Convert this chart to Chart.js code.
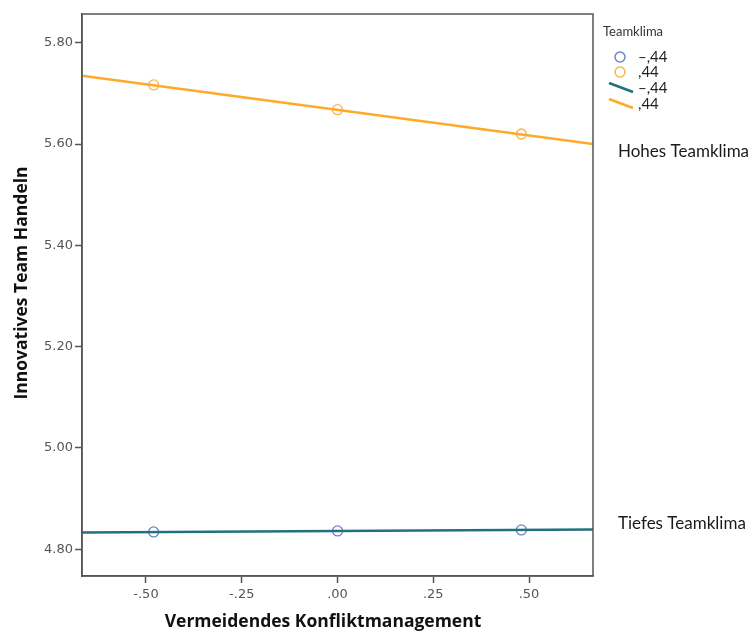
<!DOCTYPE html>
<html>
<head>
<meta charset="utf-8">
<script src="https://cdn.jsdelivr.net/npm/chart.js@4/dist/chart.umd.min.js"></script>
<style>
  html, body { margin: 0; padding: 0; background: #fff; }
  #wrap { width: 752px; height: 633px; position: relative; }
</style>
</head>
<body>
<div id="wrap"><canvas id="chart"></canvas></div>
<script>
// estimated means at low / mid / high conflict avoidance
const pointX = [-0.48, 0.0, 0.48];
const lowClimate = [4.834, 4.836, 4.838];
const highClimate = [5.717, 5.668, 5.620];

// regression lines across the whole x range
const lineX = [-0.667, 0.667];
const lowLine = [4.833, 4.839];
const highLine = [5.735, 5.600];

const xTicks = [-0.5, -0.25, 0, 0.25, 0.5];
const xTickLabels = ['-.50', '-.25', '.00', '.25', '.50'];
const yTicks = [4.8, 5.0, 5.2, 5.4, 5.6, 5.8];
const yTickLabels = ['4.80', '5.00', '5.20', '5.40', '5.60', '5.80'];

const xTitle = 'Vermeidendes Konfliktmanagement';
const yTitle = 'Innovatives Team Handeln';
const legendTitle = 'Teamklima';
const legendLabels = ['–,44', ',44', '–,44', ',44'];
const notes = ['Hohes Teamklima', 'Tiefes Teamklima'];

const BLUE = '#6a86c8';
const ORANGE_PT = '#fbb44f';
const TEAL = '#23717f';
const ORANGE = '#ffa92a';
const AXIS = '#555';

function toXY(xs, ys) {
    return xs.map((x, i) => ({x: x, y: ys[i]}));
}

// frame, axis titles, legend and the two labels on the right
const extras = {
    id: 'extras',
    afterDraw(chart) {
        const ctx = chart.ctx;
        const a = chart.chartArea;
        const ys = chart.scales.y;
        ctx.save();
        ctx.strokeStyle = AXIS;
        ctx.lineWidth = 1.5;
        ctx.strokeRect(a.left, a.top, a.right - a.left, a.bottom - a.top);

        // axis titles (SPSS centres them a bit off the plot centre)
        ctx.fillStyle = '#111';
        ctx.textAlign = 'center';
        ctx.textBaseline = 'middle';
        ctx.font = 'bold 17.5px "Open Sans"';
        ctx.fillText(xTitle, 323, 622);
        ctx.save();
        ctx.translate(22, 283);
        ctx.rotate(-Math.PI / 2);
        ctx.fillText(yTitle, 0, 0);
        ctx.restore();

        const lx = a.right + 10;
        ctx.fillStyle = '#333';
        ctx.textAlign = 'left';
        ctx.font = '13px Lato';
        ctx.fillText(legendTitle, lx, 32);

        ctx.font = '15px Lato';
        const rows = [57, 72, 88, 104];
        // circles
        ctx.lineWidth = 1.5;
        ctx.strokeStyle = BLUE;
        ctx.beginPath(); ctx.arc(lx + 17, rows[0], 5, 0, Math.PI * 2); ctx.stroke();
        ctx.strokeStyle = ORANGE_PT;
        ctx.beginPath(); ctx.arc(lx + 17, rows[1], 5, 0, Math.PI * 2); ctx.stroke();
        // line symbols
        ctx.lineWidth = 2.5;
        ctx.strokeStyle = TEAL;
        ctx.beginPath(); ctx.moveTo(lx + 6, rows[2] - 5); ctx.lineTo(lx + 30, rows[2] + 4); ctx.stroke();
        ctx.strokeStyle = ORANGE;
        ctx.beginPath(); ctx.moveTo(lx + 6, rows[3] - 5); ctx.lineTo(lx + 30, rows[3] + 4); ctx.stroke();

        ctx.fillStyle = '#222';
        legendLabels.forEach((t, i) => {
            ctx.fillText(t, lx + 35, rows[i]);
        });

        ctx.font = '17px Lato';
        ctx.fillStyle = '#1a1a1a';
        ctx.fillText(notes[0], a.right + 25, ys.getPixelForValue(highLine[1]) + 7);
        ctx.fillText(notes[1], a.right + 25, ys.getPixelForValue(lowLine[1]) - 6);
        ctx.restore();
    }
};

new Chart(document.getElementById('chart'), {
    type: 'scatter',
    data: {
        datasets: [
            {
                data: toXY(lineX, highLine),
                showLine: true,
                borderColor: ORANGE,
                borderWidth: 2.5,
                pointRadius: 0
            },
            {
                data: toXY(lineX, lowLine),
                showLine: true,
                borderColor: TEAL,
                borderWidth: 2.5,
                pointRadius: 0
            },
            {
                data: toXY(pointX, highClimate),
                showLine: false,
                pointRadius: 5,
                pointBorderWidth: 1.3,
                pointBorderColor: ORANGE_PT,
                pointBackgroundColor: 'rgba(0,0,0,0)'
            },
            {
                data: toXY(pointX, lowClimate),
                showLine: false,
                pointRadius: 5,
                pointBorderWidth: 1.3,
                pointBorderColor: BLUE,
                pointBackgroundColor: 'rgba(0,0,0,0)'
            }
        ]
    },
    options: {
        responsive: true,
        maintainAspectRatio: false,
        animation: false,
        layout: {padding: {top: 14, right: 159, bottom: 0, left: 0}},
        plugins: {
            legend: {display: false},
            tooltip: {enabled: false}
        },
        scales: {
            x: {
                type: 'linear',
                min: -0.667,
                max: 0.667,
                afterBuildTicks: (s) => { s.ticks = xTicks.map(v => ({value: v})); },
                afterFit: (s) => { s.height = 57; },
                grid: {drawOnChartArea: false, drawTicks: true, tickLength: 7, tickColor: AXIS, tickWidth: 1.5},
                border: {color: AXIS, width: 1.5},
                ticks: {
                    color: '#555',
                    font: {family: 'DejaVu Sans', size: 13},
                    padding: 4,
                    maxRotation: 0,
                    callback: (v) => xTickLabels[xTicks.indexOf(v)]
                }
            },
            y: {
                type: 'linear',
                min: 4.747,
                max: 5.857,
                afterBuildTicks: (s) => { s.ticks = yTicks.map(v => ({value: v})); },
                afterFit: (s) => { s.width = 82; },
                grid: {drawOnChartArea: false, drawTicks: true, tickLength: 7, tickColor: AXIS, tickWidth: 1.5},
                border: {color: AXIS, width: 1.5},
                ticks: {
                    color: '#555',
                    font: {family: 'DejaVu Sans', size: 13},
                    padding: 2,
                    callback: (v) => yTickLabels[yTicks.indexOf(v)]
                }
            }
        }
    },
    plugins: [extras]
});
</script>
</body>
</html>
